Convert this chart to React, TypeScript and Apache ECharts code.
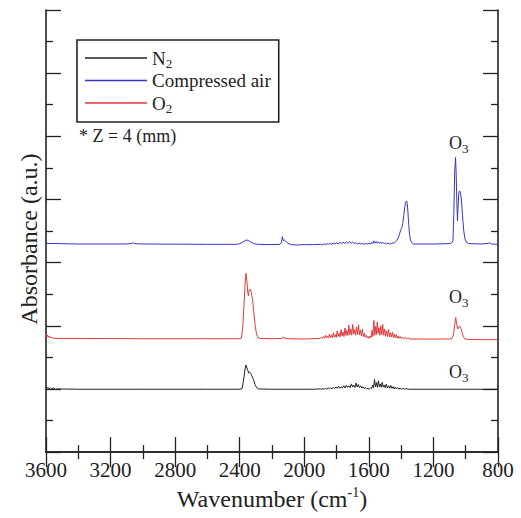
import React, { useEffect, useRef } from "react";
import * as echarts from "echarts";

const seriesNames = ["N2", "Compressed air", "O2"];
const seriesColors = ["#222222", "#3535cc", "#e03a3a"];

// [wavenumber (cm-1), absorbance (a.u., offset)]
const n2Spectrum: [number, number][] = [
  [3600, 2.06], [3594, 2.01], [3588, 2.05], [3580, 2.0], [3572, 2.04], [3564, 2.0], [3556, 2.03],
  [3545, 1.99], [3520, 2.0], [3400, 1.99], [3000, 1.99], [2600, 1.99], [2400, 1.99], [2385, 2.01],
  [2377, 2.25], [2368, 2.6], [2361, 2.76], [2355, 2.66], [2349, 2.58], [2344, 2.5], [2339, 2.53],
  [2333, 2.5], [2325, 2.42], [2315, 2.3], [2305, 2.14], [2295, 2.04], [2283, 2.0], [2200, 1.99],
  [2000, 1.99], [1950, 1.99],
  [1900, 2.0], [1892, 1.99], [1884, 2.01], [1876, 1.99], [1868, 2.02], [1860, 1.99], [1852, 2.03],
  [1844, 2.0], [1836, 2.04], [1828, 2.0], [1820, 2.05], [1812, 2.01], [1804, 2.06], [1796, 2.02],
  [1788, 2.08], [1780, 2.02], [1772, 2.07], [1764, 2.03], [1756, 2.1], [1748, 2.03], [1740, 2.12],
  [1732, 2.05], [1724, 2.1], [1716, 2.04], [1708, 2.16], [1700, 2.06], [1693, 2.12], [1686, 2.05],
  [1679, 2.19], [1672, 2.06], [1665, 2.14], [1658, 2.04], [1651, 2.1], [1644, 2.03], [1637, 2.07],
  [1630, 2.01], [1622, 2.04], [1614, 2.0], [1606, 2.02], [1598, 1.99], [1590, 2.03], [1583, 2.01],
  [1577, 2.12], [1571, 2.04], [1565, 2.3], [1559, 2.07], [1553, 2.2], [1547, 2.05], [1541, 2.26],
  [1535, 2.07], [1529, 2.16], [1523, 2.05], [1517, 2.21], [1511, 2.06], [1505, 2.12], [1499, 2.04],
  [1492, 2.15], [1485, 2.03], [1478, 2.1], [1471, 2.02], [1464, 2.11], [1457, 2.02], [1450, 2.07],
  [1443, 2.0], [1436, 2.06], [1429, 2.0], [1422, 2.04], [1415, 1.99], [1407, 2.03], [1399, 1.99],
  [1390, 2.02], [1380, 1.99], [1370, 2.01], [1355, 1.99], [1340, 1.99], [1100, 1.99], [800, 1.99],
];

const airSpectrum: [number, number][] = [
  [3600, 6.61], [3400, 6.59], [3100, 6.59], [3070, 6.61], [3060, 6.63], [3050, 6.6], [3000, 6.59],
  [2600, 6.58], [2420, 6.58], [2400, 6.6], [2385, 6.64], [2370, 6.69], [2357, 6.72], [2340, 6.68],
  [2325, 6.63], [2310, 6.6], [2290, 6.58], [2200, 6.57], [2150, 6.58], [2142, 6.63], [2136, 6.82],
  [2131, 6.7], [2125, 6.72], [2117, 6.69], [2108, 6.64], [2095, 6.6], [2080, 6.57], [2050, 6.56],
  [2000, 6.57], [1950, 6.57],
  [1900, 6.58], [1890, 6.56], [1880, 6.59], [1870, 6.57], [1860, 6.6], [1850, 6.58], [1840, 6.61],
  [1830, 6.58], [1820, 6.62], [1810, 6.59], [1800, 6.63], [1790, 6.59], [1780, 6.64], [1770, 6.6],
  [1760, 6.65], [1750, 6.6], [1740, 6.66], [1730, 6.61], [1720, 6.67], [1710, 6.61], [1700, 6.65],
  [1690, 6.6], [1680, 6.63], [1670, 6.59], [1660, 6.62], [1650, 6.59], [1640, 6.61], [1630, 6.58],
  [1620, 6.6], [1610, 6.59], [1600, 6.61], [1590, 6.59], [1582, 6.65], [1575, 6.6], [1568, 6.69],
  [1561, 6.62], [1554, 6.67], [1547, 6.61], [1540, 6.66], [1533, 6.61], [1526, 6.65], [1519, 6.6],
  [1512, 6.64], [1505, 6.6], [1498, 6.63], [1490, 6.59], [1482, 6.62], [1474, 6.59], [1466, 6.61],
  [1458, 6.6], [1450, 6.63], [1442, 6.62], [1434, 6.66], [1426, 6.71], [1418, 6.79], [1410, 6.91],
  [1402, 7.04], [1396, 7.11], [1390, 7.24], [1384, 7.49], [1378, 7.74], [1372, 7.91], [1366, 7.95],
  [1362, 7.87], [1358, 7.6], [1353, 7.2], [1348, 6.9], [1342, 6.71], [1334, 6.63], [1325, 6.59],
  [1300, 6.59], [1200, 6.59], [1110, 6.6], [1095, 6.61], [1085, 6.64], [1079, 6.7], [1074, 7.5],
  [1068, 8.9], [1063, 9.33], [1059, 8.8], [1055, 7.9], [1051, 7.33], [1047, 7.8], [1043, 8.2],
  [1038, 8.27], [1032, 8.2], [1026, 7.95], [1020, 7.5], [1012, 7.0], [1004, 6.74], [995, 6.64],
  [980, 6.6], [900, 6.59], [860, 6.61], [850, 6.63], [840, 6.59], [800, 6.58],
];

const o2Spectrum: [number, number][] = [
  [3600, 3.74], [3596, 3.66], [3592, 3.71], [3587, 3.64], [3582, 3.68], [3576, 3.62], [3570, 3.64],
  [3560, 3.61], [3540, 3.6], [3400, 3.6], [3000, 3.59], [2600, 3.59], [2400, 3.59], [2390, 3.61],
  [2382, 3.9], [2374, 4.6], [2367, 5.3], [2361, 5.66], [2355, 5.4], [2350, 5.05], [2346, 4.95],
  [2341, 5.14], [2335, 5.16], [2328, 5.06], [2320, 4.8], [2312, 4.4], [2304, 4.0], [2296, 3.74],
  [2287, 3.63], [2270, 3.6], [2200, 3.59], [2140, 3.6], [2130, 3.64], [2120, 3.61], [2100, 3.59],
  [2000, 3.58], [1950, 3.59],
  [1900, 3.6], [1893, 3.64], [1887, 3.6], [1880, 3.66], [1874, 3.61], [1868, 3.7], [1862, 3.62],
  [1856, 3.67], [1850, 3.61], [1844, 3.74], [1838, 3.63], [1832, 3.7], [1826, 3.62], [1820, 3.78],
  [1814, 3.64], [1808, 3.72], [1802, 3.63], [1796, 3.84], [1790, 3.66], [1784, 3.76], [1778, 3.65],
  [1772, 3.88], [1766, 3.68], [1760, 3.8], [1754, 3.66], [1748, 3.93], [1742, 3.7], [1736, 3.86],
  [1730, 3.69], [1724, 4.02], [1718, 3.72], [1712, 3.9], [1706, 3.7], [1700, 4.04], [1694, 3.74],
  [1688, 3.88], [1682, 3.7], [1676, 3.96], [1670, 3.72], [1664, 4.03], [1658, 3.71], [1652, 3.86],
  [1646, 3.68], [1640, 3.9], [1634, 3.66], [1628, 3.76], [1622, 3.64], [1616, 3.7], [1610, 3.62],
  [1604, 3.66], [1598, 3.6], [1592, 3.68], [1586, 3.63], [1580, 3.86], [1575, 3.66], [1569, 4.17],
  [1564, 3.7], [1559, 3.98], [1554, 3.72], [1548, 4.12], [1543, 3.76], [1538, 3.94], [1532, 3.7],
  [1526, 4.0], [1520, 3.72], [1514, 4.04], [1508, 3.7], [1502, 3.9], [1496, 3.67], [1490, 3.84],
  [1484, 3.66], [1478, 3.88], [1472, 3.65], [1466, 3.78], [1460, 3.64], [1454, 3.8], [1448, 3.63],
  [1442, 3.74], [1436, 3.62], [1430, 3.72], [1424, 3.61], [1418, 3.68], [1412, 3.6], [1406, 3.66],
  [1400, 3.6], [1392, 3.64], [1384, 3.59], [1376, 3.63], [1368, 3.59], [1358, 3.61], [1345, 3.58],
  [1300, 3.58], [1150, 3.58], [1100, 3.58], [1085, 3.6], [1075, 3.74], [1068, 4.05], [1062, 4.26],
  [1057, 4.1], [1052, 3.92], [1047, 3.9], [1042, 3.98], [1036, 3.98], [1030, 3.92], [1022, 3.78],
  [1014, 3.65], [1005, 3.59], [990, 3.57], [900, 3.56], [800, 3.56],
];

const spectra = [n2Spectrum, airSpectrum, o2Spectrum];

const xMin = 800;
const xMax = 3600;
const xStep = 400;
const yMin = 0;
const yMax = 14;
const yStep = 2;

const FONT = "Liberation Serif";
const INK = "#222222";

const legendRich = {
  base: { fontFamily: FONT, fontSize: 19, lineHeight: 22, color: INK },
  sub: { fontFamily: FONT, fontSize: 13, lineHeight: 11, color: INK, padding: [11, 0, 0, 0] },
};

function legendFormatter(name: string) {
  if (name === "N2") return "{base|N}{sub|2}";
  if (name === "O2") return "{base|O}{sub|2}";
  return "{base|" + name + "}";
}

export default function App() {
  const ref = useRef<HTMLDivElement>(null);

  useEffect(() => {
    if (!ref.current) return;
    document.body.style.margin = "0";
    const chart = echarts.init(ref.current, undefined, { renderer: "svg" });

    const axisLine = { show: true, lineStyle: { color: INK, width: 1.6 } };
    const tickStyle = { color: INK, width: 1.3 };
    const xCommon = {
      type: "value" as const,
      min: xMin,
      max: xMax,
      interval: xStep,
      inverse: true,
      axisLine,
      axisTick: { show: true, inside: true, length: 15, lineStyle: tickStyle },
      minorTick: { show: true, splitNumber: 2, length: 7, lineStyle: tickStyle },
      splitLine: { show: false },
    };
    const yCommon = {
      type: "value" as const,
      min: yMin,
      max: yMax,
      interval: yStep,
      axisLine,
      axisTick: { show: true, inside: true, length: 15, lineStyle: tickStyle },
      minorTick: { show: true, splitNumber: 2, length: 7, lineStyle: tickStyle },
      axisLabel: { show: false },
      splitLine: { show: false },
    };

    const o3Label = (x: number, y: number) => ({
      type: "text",
      x,
      y,
      style: {
        text: "{base|O}{sub|3}",
        rich: {
          base: { fontFamily: FONT, fontSize: 18, lineHeight: 22, fill: INK },
          sub: { fontFamily: FONT, fontSize: 13, lineHeight: 12, fill: INK, padding: [10, 0, 0, 0] },
        },
        fill: INK,
        verticalAlign: "middle",
      },
    });

    chart.setOption({
      animation: false,
      grid: { left: 46, right: 23, top: 10, bottom: 60.5, containLabel: false },
      xAxis: [
        {
          ...xCommon,
          position: "bottom",
          name: "Wavenumber (cm{sup|-1})",
          nameLocation: "middle",
          nameGap: 30,
          nameTextStyle: {
            fontFamily: FONT,
            fontSize: 24,
            lineHeight: 28,
            color: INK,
            rich: {
              sup: { fontFamily: FONT, fontSize: 14, lineHeight: 14, color: INK, padding: [0, 0, 14, 0] },
            },
          },
          axisLabel: {
            show: true,
            fontFamily: FONT,
            fontSize: 21,
            color: INK,
            margin: 7,
            formatter: (v: number) => String(v),
          },
        },
        { ...xCommon, position: "top", axisLabel: { show: false } },
      ],
      yAxis: [
        {
          ...yCommon,
          position: "left",
          name: "Absorbance (a.u.)",
          nameLocation: "middle",
          nameGap: 5,
          nameTextStyle: { fontFamily: FONT, fontSize: 24, color: INK, padding: [0, 16, 0, 0] },
        },
        { ...yCommon, position: "right" },
      ],
      legend: {
        show: true,
        orient: "vertical",
        left: 77,
        top: 40,
        data: seriesNames.map((name, i) => ({
          name,
          itemStyle: { color: seriesColors[i] },
        })),
        icon: "rect",
        itemWidth: 62,
        itemHeight: 1.5,
        itemGap: 1,
        padding: [6, 8, 7, 8],
        borderColor: INK,
        borderWidth: 1.6,
        borderRadius: 0,
        selectedMode: false,
        formatter: legendFormatter,
        textStyle: { fontFamily: FONT, fontSize: 19, color: INK, rich: legendRich },
      },
      graphic: [
        {
          type: "text",
          x: 79,
          y: 136,
          style: {
            text: "* Z = 4 (mm)",
            fontFamily: FONT,
            fontSize: 18,
            fill: INK,
            verticalAlign: "middle",
          },
        },
        o3Label(449, 143),
        o3Label(449, 297),
        o3Label(449, 372),
      ],
      series: spectra.map((data, i) => ({
        name: seriesNames[i],
        type: "line",
        xAxisIndex: 0,
        yAxisIndex: 0,
        data,
        showSymbol: false,
        symbol: "none",
        lineStyle: { color: seriesColors[i], width: 1 },
        itemStyle: { color: seriesColors[i] },
        z: i === 0 ? 3 : 2,
      })),
    });

    return () => chart.dispose();
  }, []);

  return <div ref={ref} style={{ width: 521, height: 518 }} />;
}
